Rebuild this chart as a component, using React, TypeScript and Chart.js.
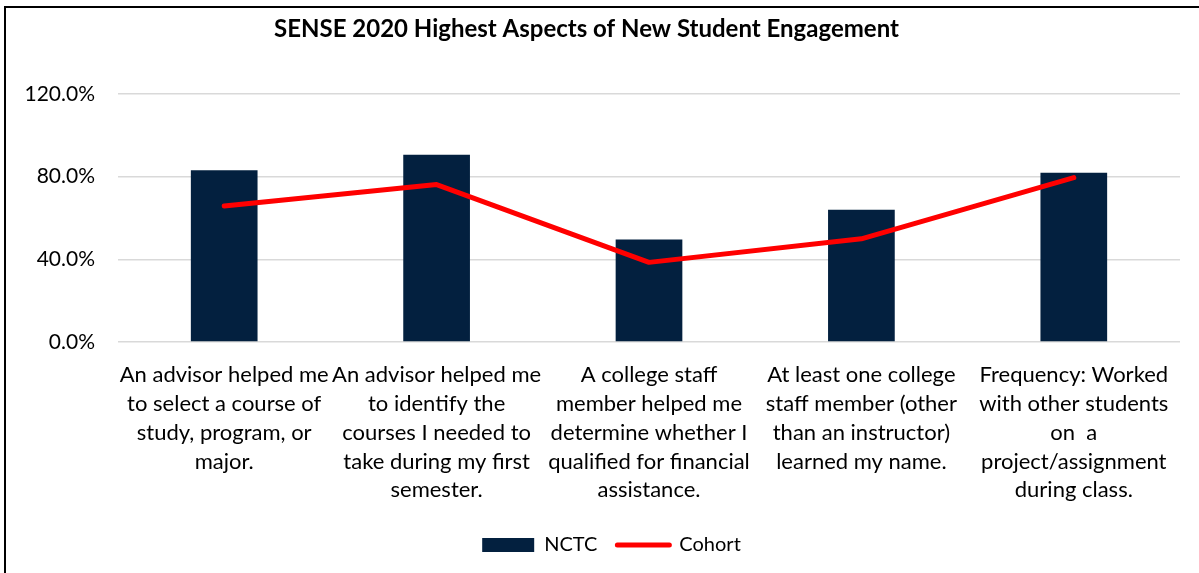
import React, { useEffect, useRef } from "react";
import { Chart, registerables } from "chart.js";

Chart.register(...registerables);

const TITLE = "SENSE 2020 Highest Aspects of New Student Engagement";
const CATEGORIES: string[][] = [
  ["An advisor helped me", "to select a course of", "study, program, or", "major."],
  ["An advisor helped me", "to identify the", "courses I needed to", "take during my first", "semester."],
  ["A college staff", "member helped me", "determine whether I", "qualified for financial", "assistance."],
  ["At least one college", "staff member (other", "than an instructor)", "learned my name."],
  ["Frequency: Worked", "with other students", "on  a", "project/assignment", "during class."],
];
const SERIES_NAMES = ["NCTC", "Cohort"];
const NCTC_VALUES = [83.0, 90.5, 49.5, 64.0, 81.8];
const COHORT_VALUES = [65.8, 76.1, 38.5, 49.9, 79.5];
const Y_MIN = 0;
const Y_MAX = 120;
const Y_STEP = 40;

const NAVY = "#03203F";
const RED = "#FF0000";
const FONT = "Lato, 'Open Sans', sans-serif";
const TITLE_SHIFT = -3.5;
const LEGEND_SHIFT = 21.5;

const shiftPlugin = {
  id: "shiftBoxes",
  afterLayout(chart: any) {
    const t = chart.titleBlock;
    if (t) {
      t.left += TITLE_SHIFT;
      t.right += TITLE_SHIFT;
    }
    const l = chart.legend;
    if (l) {
      l.left += LEGEND_SHIFT;
      l.right += LEGEND_SHIFT;
    }
  },
};

export default function App() {
  const ref = useRef<HTMLCanvasElement | null>(null);

  useEffect(() => {
    if (!ref.current) return;
    const chart = new Chart(ref.current, {
      type: "bar",
      data: {
        labels: CATEGORIES,
        datasets: [
          {
            type: "bar",
            label: SERIES_NAMES[0],
            data: NCTC_VALUES,
            backgroundColor: NAVY,
            borderWidth: 0,
            categoryPercentage: 1,
            barPercentage: 0.314,
            order: 1,
          } as any,
          {
            type: "line",
            label: SERIES_NAMES[1],
            data: COHORT_VALUES,
            borderColor: RED,
            backgroundColor: RED,
            borderWidth: 5,
            borderCapStyle: "round",
            borderJoinStyle: "round",
            pointRadius: 0,
            pointHoverRadius: 0,
            tension: 0,
            order: 0,
          } as any,
        ],
      },
      options: {
        responsive: false,
        animation: false,
        layout: { padding: { left: 0, right: 19, top: 0, bottom: 8 } },
        plugins: {
          title: {
            display: true,
            text: TITLE,
            color: "#000",
            font: { family: FONT, size: 24, weight: "bold", lineHeight: 1.2 },
            padding: { top: 15, bottom: 50 },
          },
          legend: {
            position: "bottom",
            labels: {
              color: "#000",
              font: { family: FONT, size: 20 },
              usePointStyle: true,
              pointStyleWidth: 52,
              boxHeight: 14,
              padding: 20,
              sort: (a: any, b: any) => a.datasetIndex - b.datasetIndex,
              generateLabels: (c: any) => {
                const items = (Chart.defaults.plugins.legend.labels as any).generateLabels(c);
                items.forEach((it: any) => {
                  if (it.datasetIndex === 0) {
                    it.pointStyle = "rect";
                    it.lineWidth = 0;
                    it.fillStyle = NAVY;
                    it.strokeStyle = NAVY;
                  } else {
                    it.pointStyle = "line";
                    it.lineWidth = 5;
                    it.strokeStyle = RED;
                    it.lineCap = "round";
                  }
                });
                return items;
              },
            },
          },
          tooltip: { enabled: false },
        },
        scales: {
          x: {
            grid: { display: false, drawTicks: false },
            border: { display: false },
            ticks: {
              color: "#000",
              font: { family: FONT, size: 22, lineHeight: "28.7px" as any },
              maxRotation: 0,
              minRotation: 0,
              autoSkip: false,
              padding: 19,
            },
            afterFit: (scale: any) => {
              scale.height = 173;
            },
          },
          y: {
            min: Y_MIN,
            max: Y_MAX,
            grid: { color: "#D9D9D9", lineWidth: 1.5, drawTicks: false },
            border: { display: false },
            ticks: {
              stepSize: Y_STEP,
              color: "#000",
              font: { family: FONT, size: 21 },
              padding: 23,
              callback: (v: any) => Number(v).toFixed(1) + "%",
            },
            afterFit: (scale: any) => {
              scale.width = 118;
            },
          },
        },
      },
      plugins: [shiftPlugin],
    });
    return () => chart.destroy();
  }, []);

  return (
    <div style={{ position: "fixed", left: 0, top: 0, width: 1199, height: 573, background: "#fff", overflow: "hidden" }}>
      <canvas ref={ref} width={1199} height={573} style={{ position: "absolute", left: 0, top: 0, width: 1199, height: 573 }} />
      <div
        style={{
          position: "absolute",
          left: 4,
          top: 6,
          width: 1195,
          height: 567,
          borderLeft: "2px solid #000",
          borderTop: "2px solid #000",
          boxSizing: "border-box",
          pointerEvents: "none",
        }}
      />
    </div>
  );
}
